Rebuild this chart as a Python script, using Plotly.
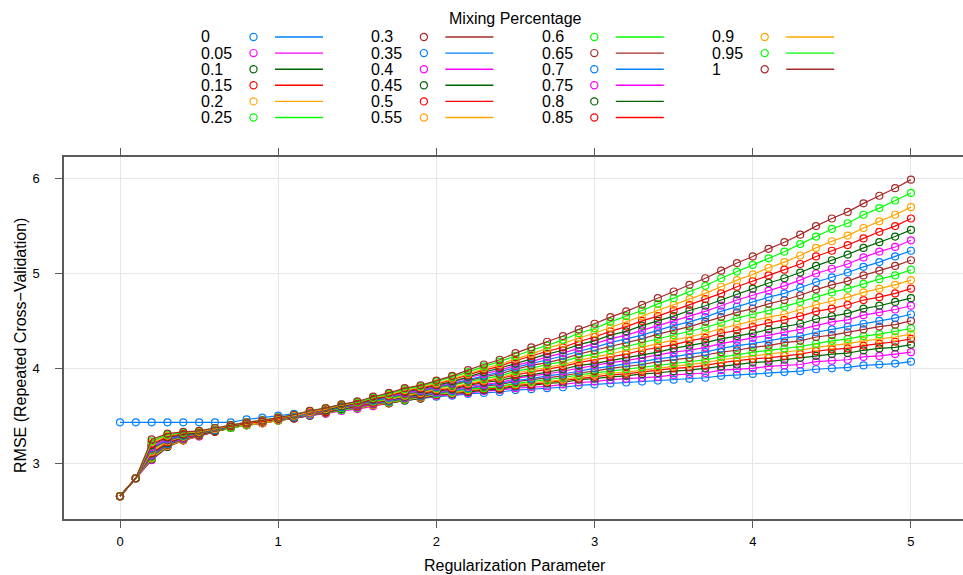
import plotly.graph_objects as go

# ---------------- data ----------------
lambdas = [0.0, 0.1, 0.2, 0.3, 0.4, 0.5, 0.6, 0.7, 0.8, 0.9,
           1.0, 1.1, 1.2, 1.3, 1.4, 1.5, 1.6, 1.7, 1.8, 1.9,
           2.0, 2.1, 2.2, 2.3, 2.4, 2.5, 2.6, 2.7, 2.8, 2.9,
           3.0, 3.1, 3.2, 3.3, 3.4, 3.5, 3.6, 3.7, 3.8, 3.9,
           4.0, 4.1, 4.2, 4.3, 4.4, 4.5, 4.6, 4.7, 4.8, 4.9,
           5.0]

mixing_labels = ["0", "0.05", "0.1", "0.15", "0.2", "0.25", "0.3", "0.35", "0.4", "0.45",
                 "0.5", "0.55", "0.6", "0.65", "0.7", "0.75", "0.8", "0.85", "0.9", "0.95", "1"]

rmse_a000 = [3.43, 3.43, 3.43, 3.43, 3.43, 3.43, 3.43, 3.43, 3.46, 3.48,
             3.50, 3.52, 3.54, 3.56, 3.58, 3.60, 3.62, 3.64, 3.66, 3.68,
             3.70, 3.71, 3.73, 3.74, 3.75, 3.77, 3.78, 3.79, 3.80, 3.82,
             3.83, 3.84, 3.85, 3.86, 3.87, 3.88, 3.89, 3.90, 3.92, 3.93,
             3.94, 3.95, 3.96, 3.97, 3.99, 4.00, 4.01, 4.03, 4.04, 4.05,
             4.07]
rmse_a005 = [2.65, 2.84, 3.03, 3.17, 3.24, 3.28, 3.33, 3.37, 3.40, 3.42,
             3.45, 3.47, 3.50, 3.52, 3.55, 3.57, 3.60, 3.63, 3.66, 3.68,
             3.71, 3.72, 3.74, 3.76, 3.77, 3.79, 3.80, 3.81, 3.83, 3.85,
             3.86, 3.88, 3.89, 3.90, 3.91, 3.93, 3.94, 3.95, 3.98, 3.99,
             4.00, 4.02, 4.03, 4.04, 4.07, 4.08, 4.09, 4.12, 4.13, 4.15,
             4.17]
rmse_a010 = [2.65, 2.84, 3.04, 3.17, 3.24, 3.29, 3.33, 3.37, 3.40, 3.42,
             3.45, 3.47, 3.50, 3.53, 3.56, 3.58, 3.61, 3.63, 3.66, 3.68,
             3.72, 3.73, 3.75, 3.77, 3.78, 3.81, 3.82, 3.84, 3.85, 3.88,
             3.89, 3.91, 3.92, 3.94, 3.95, 3.97, 3.98, 4.00, 4.02, 4.04,
             4.06, 4.07, 4.09, 4.11, 4.13, 4.15, 4.16, 4.19, 4.21, 4.22,
             4.25]
rmse_a015 = [2.65, 2.84, 3.05, 3.18, 3.24, 3.29, 3.33, 3.37, 3.40, 3.42,
             3.45, 3.47, 3.51, 3.53, 3.56, 3.58, 3.61, 3.63, 3.67, 3.69,
             3.72, 3.74, 3.76, 3.78, 3.79, 3.82, 3.83, 3.85, 3.87, 3.89,
             3.91, 3.93, 3.94, 3.96, 3.98, 4.00, 4.01, 4.03, 4.06, 4.08,
             4.10, 4.11, 4.13, 4.15, 4.18, 4.20, 4.21, 4.24, 4.26, 4.28,
             4.31]
rmse_a020 = [2.65, 2.84, 3.05, 3.18, 3.24, 3.29, 3.34, 3.37, 3.40, 3.42,
             3.45, 3.48, 3.51, 3.53, 3.56, 3.58, 3.61, 3.64, 3.67, 3.69,
             3.73, 3.74, 3.77, 3.79, 3.80, 3.83, 3.85, 3.86, 3.88, 3.91,
             3.93, 3.95, 3.96, 3.98, 4.00, 4.02, 4.04, 4.06, 4.09, 4.11,
             4.13, 4.15, 4.17, 4.19, 4.22, 4.24, 4.26, 4.29, 4.31, 4.33,
             4.36]
rmse_a025 = [2.65, 2.84, 3.06, 3.19, 3.25, 3.29, 3.34, 3.37, 3.40, 3.43,
             3.45, 3.48, 3.51, 3.53, 3.56, 3.58, 3.62, 3.64, 3.67, 3.70,
             3.73, 3.75, 3.78, 3.79, 3.81, 3.84, 3.86, 3.88, 3.90, 3.93,
             3.95, 3.97, 3.99, 4.01, 4.03, 4.05, 4.07, 4.09, 4.12, 4.14,
             4.17, 4.19, 4.21, 4.23, 4.26, 4.29, 4.31, 4.34, 4.36, 4.39,
             4.42]
rmse_a030 = [2.65, 2.84, 3.07, 3.19, 3.25, 3.29, 3.34, 3.38, 3.41, 3.43,
             3.46, 3.48, 3.51, 3.53, 3.57, 3.59, 3.62, 3.65, 3.68, 3.70,
             3.74, 3.76, 3.79, 3.81, 3.83, 3.86, 3.88, 3.90, 3.92, 3.95,
             3.97, 4.00, 4.02, 4.04, 4.07, 4.09, 4.11, 4.14, 4.17, 4.19,
             4.22, 4.24, 4.27, 4.29, 4.33, 4.35, 4.38, 4.41, 4.44, 4.46,
             4.50]
rmse_a035 = [2.65, 2.84, 3.08, 3.20, 3.26, 3.30, 3.34, 3.38, 3.41, 3.43,
             3.46, 3.48, 3.51, 3.54, 3.57, 3.59, 3.63, 3.65, 3.69, 3.71,
             3.74, 3.76, 3.79, 3.82, 3.84, 3.87, 3.89, 3.92, 3.94, 3.97,
             4.00, 4.02, 4.05, 4.07, 4.10, 4.12, 4.15, 4.17, 4.21, 4.24,
             4.26, 4.29, 4.32, 4.34, 4.38, 4.41, 4.44, 4.47, 4.50, 4.53,
             4.57]
rmse_a040 = [2.65, 2.84, 3.09, 3.21, 3.26, 3.30, 3.34, 3.38, 3.41, 3.43,
             3.46, 3.48, 3.51, 3.54, 3.57, 3.59, 3.63, 3.66, 3.69, 3.72,
             3.75, 3.77, 3.81, 3.83, 3.85, 3.89, 3.92, 3.94, 3.97, 4.00,
             4.03, 4.06, 4.08, 4.11, 4.14, 4.17, 4.19, 4.22, 4.26, 4.29,
             4.32, 4.35, 4.38, 4.41, 4.45, 4.49, 4.51, 4.56, 4.59, 4.62,
             4.66]
rmse_a045 = [2.65, 2.84, 3.10, 3.21, 3.27, 3.30, 3.34, 3.38, 3.41, 3.43,
             3.46, 3.48, 3.52, 3.54, 3.57, 3.60, 3.64, 3.66, 3.70, 3.72,
             3.76, 3.78, 3.82, 3.85, 3.87, 3.91, 3.93, 3.96, 3.99, 4.03,
             4.05, 4.08, 4.11, 4.14, 4.17, 4.21, 4.24, 4.27, 4.31, 4.34,
             4.37, 4.41, 4.44, 4.47, 4.52, 4.55, 4.58, 4.63, 4.66, 4.70,
             4.74]
rmse_a050 = [2.65, 2.84, 3.11, 3.22, 3.27, 3.30, 3.35, 3.38, 3.41, 3.43,
             3.46, 3.49, 3.52, 3.54, 3.58, 3.60, 3.64, 3.67, 3.71, 3.73,
             3.77, 3.79, 3.83, 3.86, 3.89, 3.93, 3.96, 3.99, 4.02, 4.06,
             4.09, 4.12, 4.15, 4.19, 4.22, 4.25, 4.29, 4.32, 4.37, 4.40,
             4.44, 4.48, 4.51, 4.55, 4.60, 4.63, 4.67, 4.72, 4.75, 4.79,
             4.84]
rmse_a055 = [2.65, 2.84, 3.12, 3.23, 3.28, 3.31, 3.35, 3.38, 3.41, 3.43,
             3.46, 3.49, 3.52, 3.55, 3.58, 3.61, 3.65, 3.67, 3.71, 3.74,
             3.78, 3.80, 3.84, 3.87, 3.90, 3.95, 3.98, 4.01, 4.04, 4.08,
             4.12, 4.15, 4.19, 4.22, 4.26, 4.30, 4.33, 4.37, 4.42, 4.46,
             4.50, 4.54, 4.57, 4.62, 4.67, 4.71, 4.75, 4.80, 4.84, 4.88,
             4.93]
rmse_a060 = [2.65, 2.84, 3.14, 3.24, 3.28, 3.31, 3.35, 3.38, 3.42, 3.44,
             3.47, 3.49, 3.52, 3.55, 3.58, 3.61, 3.65, 3.68, 3.72, 3.75,
             3.79, 3.82, 3.86, 3.89, 3.92, 3.97, 4.00, 4.04, 4.07, 4.12,
             4.15, 4.19, 4.23, 4.27, 4.31, 4.35, 4.39, 4.43, 4.48, 4.53,
             4.57, 4.61, 4.65, 4.70, 4.75, 4.80, 4.84, 4.89, 4.94, 4.98,
             5.04]
rmse_a065 = [2.65, 2.84, 3.15, 3.24, 3.29, 3.31, 3.35, 3.39, 3.42, 3.44,
             3.47, 3.49, 3.53, 3.55, 3.59, 3.61, 3.66, 3.69, 3.73, 3.75,
             3.80, 3.83, 3.87, 3.91, 3.94, 3.99, 4.03, 4.06, 4.10, 4.15,
             4.19, 4.23, 4.27, 4.31, 4.36, 4.40, 4.44, 4.49, 4.54, 4.59,
             4.63, 4.68, 4.72, 4.77, 4.83, 4.88, 4.92, 4.98, 5.03, 5.08,
             5.14]
rmse_a070 = [2.65, 2.84, 3.16, 3.25, 3.29, 3.32, 3.35, 3.39, 3.42, 3.44,
             3.47, 3.49, 3.53, 3.56, 3.59, 3.62, 3.66, 3.69, 3.74, 3.76,
             3.80, 3.84, 3.88, 3.92, 3.96, 4.01, 4.05, 4.09, 4.13, 4.18,
             4.22, 4.27, 4.31, 4.35, 4.40, 4.45, 4.49, 4.54, 4.60, 4.65,
             4.70, 4.75, 4.79, 4.85, 4.91, 4.96, 5.01, 5.07, 5.12, 5.18,
             5.24]
rmse_a075 = [2.65, 2.84, 3.17, 3.26, 3.30, 3.32, 3.36, 3.39, 3.42, 3.44,
             3.47, 3.50, 3.53, 3.56, 3.60, 3.62, 3.67, 3.70, 3.74, 3.77,
             3.81, 3.85, 3.90, 3.94, 3.98, 4.03, 4.07, 4.12, 4.16, 4.21,
             4.26, 4.31, 4.35, 4.40, 4.45, 4.50, 4.55, 4.60, 4.66, 4.72,
             4.77, 4.82, 4.87, 4.93, 5.00, 5.05, 5.10, 5.17, 5.23, 5.28,
             5.35]
rmse_a080 = [2.65, 2.84, 3.19, 3.27, 3.30, 3.32, 3.36, 3.39, 3.42, 3.44,
             3.47, 3.50, 3.54, 3.56, 3.60, 3.63, 3.67, 3.71, 3.75, 3.78,
             3.82, 3.86, 3.91, 3.96, 4.00, 4.05, 4.10, 4.15, 4.19, 4.25,
             4.29, 4.35, 4.39, 4.45, 4.50, 4.55, 4.61, 4.66, 4.72, 4.78,
             4.84, 4.90, 4.95, 5.01, 5.08, 5.14, 5.20, 5.27, 5.33, 5.39,
             5.46]
rmse_a085 = [2.65, 2.84, 3.20, 3.28, 3.31, 3.33, 3.36, 3.39, 3.42, 3.44,
             3.47, 3.50, 3.54, 3.57, 3.61, 3.63, 3.68, 3.71, 3.76, 3.79,
             3.83, 3.88, 3.93, 3.98, 4.02, 4.08, 4.13, 4.18, 4.22, 4.28,
             4.33, 4.39, 4.44, 4.50, 4.55, 4.61, 4.67, 4.73, 4.79, 4.86,
             4.92, 4.98, 5.04, 5.10, 5.18, 5.24, 5.30, 5.37, 5.44, 5.50,
             5.58]
rmse_a090 = [2.65, 2.84, 3.22, 3.29, 3.32, 3.33, 3.36, 3.40, 3.43, 3.45,
             3.48, 3.50, 3.54, 3.57, 3.61, 3.64, 3.69, 3.72, 3.77, 3.80,
             3.84, 3.89, 3.94, 4.00, 4.04, 4.10, 4.15, 4.21, 4.26, 4.32,
             4.37, 4.43, 4.49, 4.55, 4.61, 4.67, 4.73, 4.79, 4.86, 4.93,
             4.99, 5.06, 5.12, 5.19, 5.27, 5.34, 5.40, 5.48, 5.55, 5.62,
             5.70]
rmse_a095 = [2.65, 2.84, 3.23, 3.30, 3.32, 3.34, 3.37, 3.40, 3.43, 3.45,
             3.48, 3.51, 3.55, 3.58, 3.62, 3.64, 3.69, 3.73, 3.78, 3.81,
             3.86, 3.91, 3.96, 4.02, 4.07, 4.13, 4.19, 4.24, 4.30, 4.37,
             4.42, 4.49, 4.55, 4.61, 4.68, 4.74, 4.81, 4.87, 4.95, 5.02,
             5.09, 5.16, 5.23, 5.31, 5.39, 5.47, 5.53, 5.62, 5.69, 5.77,
             5.85]
rmse_a100 = [2.65, 2.84, 3.25, 3.31, 3.33, 3.34, 3.37, 3.40, 3.43, 3.45,
             3.48, 3.51, 3.55, 3.58, 3.62, 3.65, 3.70, 3.74, 3.79, 3.82,
             3.87, 3.92, 3.98, 4.04, 4.09, 4.16, 4.22, 4.28, 4.34, 4.41,
             4.47, 4.54, 4.60, 4.67, 4.74, 4.81, 4.88, 4.95, 5.03, 5.11,
             5.18, 5.26, 5.33, 5.41, 5.50, 5.58, 5.65, 5.74, 5.82, 5.90,
             5.99]

series = [rmse_a000, rmse_a005, rmse_a010, rmse_a015, rmse_a020, rmse_a025, rmse_a030,
          rmse_a035, rmse_a040, rmse_a045, rmse_a050, rmse_a055, rmse_a060, rmse_a065,
          rmse_a070, rmse_a075, rmse_a080, rmse_a085, rmse_a090, rmse_a095, rmse_a100]

x_ticks = [0, 1, 2, 3, 4, 5]
y_ticks = [3, 4, 5, 6]

# ---------------- style ----------------
palette = ["#0080ff", "#ff00ff", "#006400", "#ff0000", "#ffa500", "#00ff00", "#a52a2a"]
FONT = "Liberation Sans, Arial, Helvetica, sans-serif"
W, H = 963, 575
ML, MR, MT, MB = 64, 0, 157, 56
PW, PH = W - ML - MR, H - MT - MB
AXC = "#5a5a5a"


def px(xp):
    return (xp - ML) / PW


def py(yp):
    return (H - MB - yp) / PH


fig = go.Figure()
for i, (lab, ys) in enumerate(zip(mixing_labels, series)):
    col = palette[i % len(palette)]
    fig.add_trace(go.Scatter(
        x=lambdas, y=ys, mode="lines+markers", name=lab, showlegend=False,
        line=dict(color=col, width=1.2),
        marker=dict(symbol="circle-open", size=7, color=col, line=dict(width=1.2, color=col)),
        cliponaxis=False,
    ))

annotations = []
shapes = []

# legend (key: label, circle, line) in 4 columns of 6 rows
annotations.append(dict(text="Mixing Percentage", x=px(515), y=py(18), xref="paper", yref="paper",
                        xanchor="center", yanchor="middle", showarrow=False,
                        font=dict(family=FONT, size=16, color="black")))
col_dx = 170.4
row_y0, row_dy = 37, 16.1
for i, lab in enumerate(mixing_labels):
    c, r = divmod(i, 6)
    col = palette[i % len(palette)]
    lx = 199 + c * col_dx
    yy = row_y0 + r * row_dy
    annotations.append(dict(text=lab, x=px(lx), y=py(yy), xref="paper", yref="paper",
                            xanchor="left", yanchor="middle", showarrow=False,
                            font=dict(family=FONT, size=16, color="black")))
    cx = lx + 54.5
    shapes.append(dict(type="circle", xref="paper", yref="paper", xsizemode="pixel", ysizemode="pixel",
                       xanchor=px(cx), yanchor=py(yy), x0=-3.6, x1=3.6, y0=-3.6, y1=3.6,
                       line=dict(color=col, width=1.2)))
    shapes.append(dict(type="line", xref="paper", yref="paper",
                       x0=px(lx + 76), x1=px(lx + 124), y0=py(yy), y1=py(yy),
                       line=dict(color=col, width=1.4)))

# axis titles
annotations.append(dict(text="Regularization Parameter", x=px(515), y=py(565), xref="paper", yref="paper",
                        xanchor="center", yanchor="middle", showarrow=False,
                        font=dict(family=FONT, size=16, color="black")))
annotations.append(dict(text="RMSE (Repeated Cross\u2212Validation)", x=px(20), y=py(346),
                        xref="paper", yref="paper", textangle=-90,
                        xanchor="center", yanchor="middle", showarrow=False,
                        font=dict(family=FONT, size=16, color="black")))

fig.update_layout(
    width=W, height=H, autosize=False,
    margin=dict(l=ML, r=MR, t=MT, b=MB, pad=0),
    paper_bgcolor="white", plot_bgcolor="white",
    font=dict(family=FONT, size=13, color="black"),
    annotations=annotations, shapes=shapes,
    showlegend=False,
    xaxis=dict(range=[-0.354, 5.329], tickvals=x_ticks, ticktext=[str(v) for v in x_ticks],
               ticks="outside", ticklen=7, tickwidth=1.4, tickcolor=AXC,
               showline=True, linecolor=AXC, linewidth=1.5, mirror="allticks",
               showgrid=True, gridcolor="#e6e6e6", gridwidth=1.4, zeroline=False,
               tickfont=dict(family=FONT, size=13, color="black"), ticklabelstandoff=3),
    yaxis=dict(range=[2.410, 6.229], tickvals=y_ticks, ticktext=[str(v) for v in y_ticks],
               ticks="outside", ticklen=7, tickwidth=1.4, tickcolor=AXC,
               showline=True, linecolor=AXC, linewidth=1.5, mirror=False,
               showgrid=True, gridcolor="#e6e6e6", gridwidth=1.4, zeroline=False,
               tickfont=dict(family=FONT, size=13, color="black"), ticklabelstandoff=13),
)

fig.write_html("out.html", config={"displayModeBar": False})
